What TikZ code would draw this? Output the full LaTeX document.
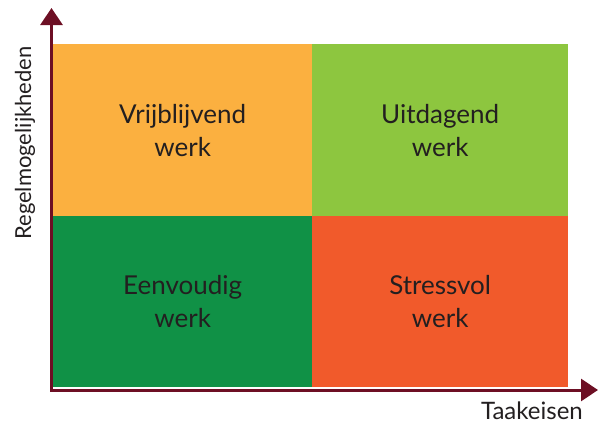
\documentclass[tikz,border=0pt]{standalone}
\usepackage{fontspec}
\setmainfont{Lato}
\usetikzlibrary{positioning}
\usetikzlibrary{arrows.meta}
\definecolor{freec}{HTML}{FBB040}
\definecolor{challc}{HTML}{8DC63F}
\definecolor{easyc}{HTML}{109146}
\definecolor{stressc}{HTML}{F15A2B}
\definecolor{axisc}{HTML}{6D0F24}
\definecolor{textc}{HTML}{231F20}
\tikzset{
  quad/.style={anchor=north west, shape=rectangle, inner sep=0pt, align=center,
    font=\fontsize{26}{33}\selectfont, text=textc},
  axis/.style={draw=axisc, line width=3pt, -{Triangle[width=22pt,length=17pt]}},
  axlabel/.style={text=textc, inner sep=0pt},
}

\begin{document}
\begin{tikzpicture}[x=1pt,y=-1pt]
        \useasboundingbox (0,0) rectangle (598,424);

        \node[quad, fill=freec, minimum width=259pt, minimum height=172pt]
        (vrij) at (53,44) {Vrijblijvend\\werk};
        \node[quad, fill=challc, minimum width=256pt, minimum height=172pt]
        (uit) at (312,44) {Uitdagend\\werk};
        \node[quad, fill=easyc, minimum width=259pt, minimum height=171pt]
        (eenv) at (53,216) {Eenvoudig\\werk};
        \node[quad, fill=stressc, minimum width=256pt, minimum height=171pt]
        (stress) at (312,216) {Stressvol\\werk};

        \coordinate (origin) at (50,390);
        \coordinate (ytop) at (51.5,8);
        \coordinate (xend) at (598,390);
        \draw[axis] (51.5,391.5) -- (ytop);
        \draw[axis] (origin) -- (xend);

        \node[axlabel, font=\fontsize{24}{24}\selectfont, anchor=east] (xlab) at (583,411) {Taakeisen};
        \node[axlabel, font=\fontsize{22}{22}\selectfont, rotate=90] (ylab) at (25,143) {Regelmogelijkheden};

        \end{tikzpicture}
\end{document}
